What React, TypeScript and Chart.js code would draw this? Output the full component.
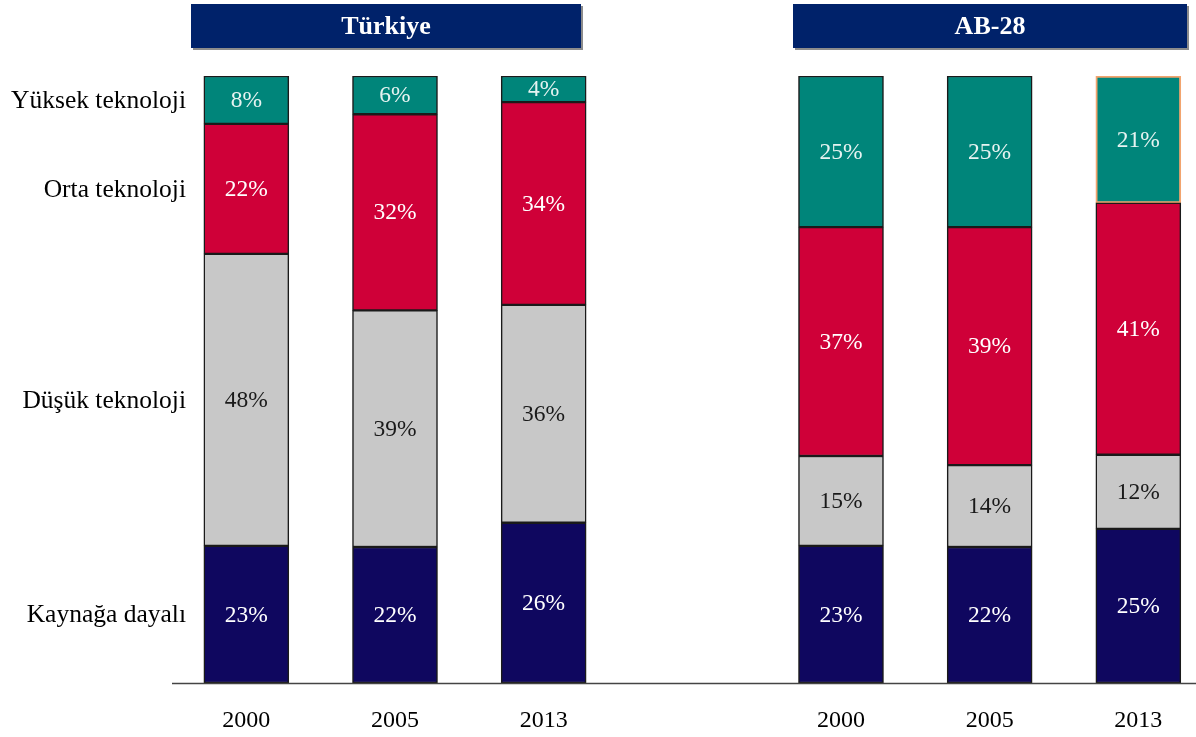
import React, { useEffect, useRef } from 'react';
import { Chart, registerables } from 'chart.js';

Chart.register(...registerables);

// ---- data ----
const groups = ['Türkiye', 'AB-28'];
const years = ['2000', '2005', '2013', '2000', '2005', '2013'];
// category slots on the x axis; slot 3 is the empty gap between the two groups
const slots = [0, 1, 2, 4, 5, 6];
const seriesNames = ['Kaynağa dayalı', 'Düşük teknoloji', 'Orta teknoloji', 'Yüksek teknoloji'];

const kaynagaValues = [22.6, 22.4, 26.4, 22.6, 22.4, 25.4];
const dusukValues = [48.1, 39.0, 35.9, 14.8, 13.5, 12.2];
const ortaValues = [21.4, 32.3, 33.4, 37.7, 39.2, 41.5];
const yuksekValues = [7.9, 6.3, 4.3, 24.9, 24.9, 20.9];

const kaynagaLabels = ['23%', '22%', '26%', '23%', '22%', '25%'];
const dusukLabels = ['48%', '39%', '36%', '15%', '14%', '12%'];
const ortaLabels = ['22%', '32%', '34%', '37%', '39%', '41%'];
const yuksekLabels = ['8%', '6%', '4%', '25%', '25%', '21%'];

const FONT = '"Liberation Serif", "Times New Roman", serif';

const App: React.FC = () => {
  const ref = useRef<HTMLCanvasElement | null>(null);

  useEffect(() => {
    if (!ref.current) return;
    const mk = (vals: number[]) => vals.map((v, i) => ({ x: slots[i], y: v }));
    const valueLabels = [kaynagaLabels, dusukLabels, ortaLabels, yuksekLabels];
    const labelColors = ['#ffffff', '#1a1a1a', '#ffffff', '#e6f3f1'];

    const overlay = {
      id: 'overlay',
      afterDatasetsDraw(chart: any) {
        const ctx = chart.ctx;
        const xs = chart.scales.x;
        const area = chart.chartArea;
        ctx.save();
        // segment labels
        ctx.font = `23.5px ${FONT}`;
        ctx.textAlign = 'center';
        ctx.textBaseline = 'middle';
        chart.data.datasets.forEach((ds: any, di: number) => {
          const meta = chart.getDatasetMeta(di);
          meta.data.forEach((bar: any, i: number) => {
            const mid = (bar.y + bar.base) / 2;
            ctx.fillStyle = labelColors[di];
            ctx.fillText(valueLabels[di][i], bar.x, mid + 1);
          });
        });
        // x axis line
        ctx.strokeStyle = '#444444';
        ctx.lineWidth = 1.5;
        ctx.beginPath();
        ctx.moveTo(area.left, area.bottom + 0.5);
        ctx.lineTo(area.right, area.bottom + 0.5);
        ctx.stroke();
        // year labels
        ctx.fillStyle = '#000000';
        ctx.font = `24px ${FONT}`;
        years.forEach((y, i) => {
          ctx.fillText(y, xs.getPixelForValue(slots[i]), area.bottom + 38);
        });
        // row labels aligned with first bar's segments
        ctx.textAlign = 'right';
        ctx.font = `25.5px ${FONT}`;
        chart.data.datasets.forEach((ds: any, di: number) => {
          const bar = chart.getDatasetMeta(di).data[0];
          const mid = (bar.y + bar.base) / 2;
          ctx.fillText(seriesNames[di], 186, mid + 1);
        });
        // group header boxes
        const boxes = [
          { l: 191, r: 581 },
          { l: 793, r: 1187 },
        ];
        boxes.forEach((b, gi) => {
          ctx.fillStyle = '#8c8c8c';
          ctx.fillRect(b.l + 2, 6, b.r - b.l, 44);
          ctx.fillStyle = '#00226a';
          ctx.fillRect(b.l, 4, b.r - b.l, 44);
          ctx.fillStyle = '#ffffff';
          ctx.font = `bold 26px ${FONT}`;
          ctx.textAlign = 'center';
          ctx.fillText(groups[gi], (b.l + b.r) / 2, 27);
        });
        ctx.restore();
      },
    };

    const chart = new Chart(ref.current, {
      type: 'bar',
      data: {
        datasets: [
          {
            label: seriesNames[0],
            data: mk(kaynagaValues),
            backgroundColor: '#0f075f',
            borderColor: '#1a1a1a',
            borderWidth: 1.5,
          },
          {
            label: seriesNames[1],
            data: mk(dusukValues),
            backgroundColor: '#c8c8c8',
            borderColor: '#1a1a1a',
            borderWidth: 1.5,
          },
          {
            label: seriesNames[2],
            data: mk(ortaValues),
            backgroundColor: '#cf0038',
            borderColor: '#1a1a1a',
            borderWidth: 1.5,
          },
          {
            label: seriesNames[3],
            data: mk(yuksekValues),
            backgroundColor: '#00857a',
            borderColor: ['#1a1a1a', '#1a1a1a', '#1a1a1a', '#1a1a1a', '#1a1a1a', '#f2a46e'],
            borderWidth: [1.5, 1.5, 1.5, 1.5, 1.5, 2],
          },
        ],
      } as any,
      options: {
        animation: false,
        responsive: false,
        layout: { padding: { left: 172, right: 0, top: 76, bottom: 54 } },
        datasets: { bar: { barThickness: 85, borderSkipped: false } } as any,
        plugins: { legend: { display: false }, tooltip: { enabled: false } },
        scales: {
          x: { type: 'linear', display: false, offset: false, min: -0.5, max: 6.388, stacked: true },
          y: { display: false, min: 0, max: 100, stacked: true },
        },
      },
      plugins: [overlay],
    });
    return () => chart.destroy();
  }, []);

  return (
    <div style={{ position: 'absolute', left: 0, top: 0, width: 1196, height: 737, background: '#fff' }}>
      <canvas ref={ref} width={1196} height={737} style={{ display: 'block' }} />
    </div>
  );
};

export default App;
